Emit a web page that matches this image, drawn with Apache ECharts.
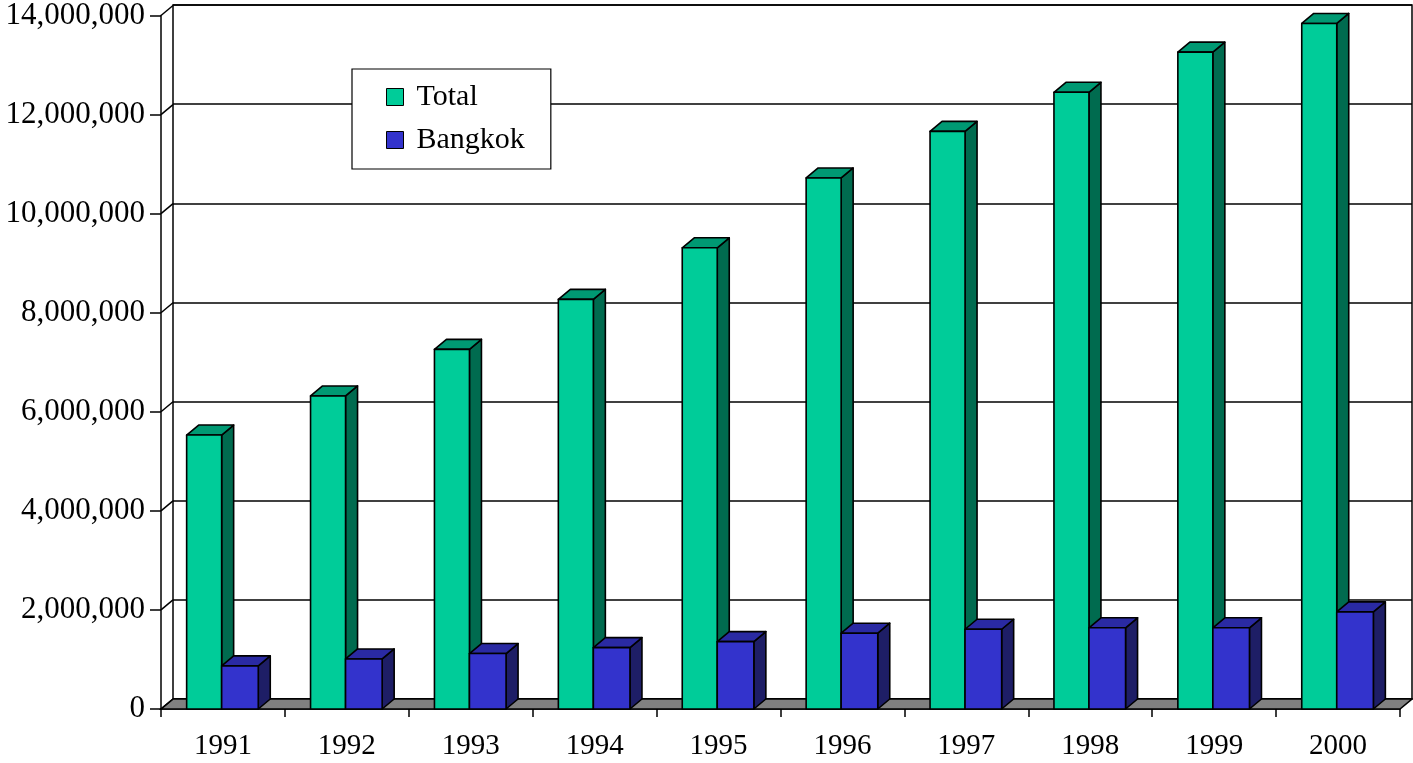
<!DOCTYPE html>
<html>
<head>
<meta charset="utf-8">
<script src="https://cdn.jsdelivr.net/npm/echarts@6/dist/echarts.min.js"></script>
<style>
html,body{margin:0;padding:0;background:#fff;}
#chart{width:1413px;height:763px;}
</style>
</head>
<body>
<div id="chart"></div>
<script>
// ---- data ----
const categories = ['1991','1992','1993','1994','1995','1996','1997','1998','1999','2000'];
const totalValues = [5530000, 6320000, 7260000, 8270000, 9310000, 10720000, 11660000, 12450000, 13260000, 13840000];
const bangkokValues = [870000, 1010000, 1120000, 1240000, 1360000, 1530000, 1610000, 1640000, 1640000, 1960000];
const yTicks = [0, 2000000, 4000000, 6000000, 8000000, 10000000, 12000000, 14000000];
const seriesNames = ['Total', 'Bangkok'];

// ---- layout / style constants ----
const FRONT = {left: 161, top: 15, right: 13, bottom: 54};
const DX = 12, DY = 10;
const FONT = '"Liberation Serif", "Times New Roman", serif';
const COLORS = {
  Total:   {front: '#00CC99', top: '#009973', side: '#006B4F'},
  Bangkok: {front: '#3333CC', top: '#2A2AA3', side: '#1E1E66'}
};
const EDGE = '#000';

function fmt(v){ return String(v).replace(/\B(?=(\d{3})+(?!\d))/g, ','); }

function barRenderer(name, f0, f1){
  const c = COLORS[name];
  return function(params, api){
    const i = api.value(0), v = api.value(1);
    const p = api.coord([i, v]);
    const b = api.coord([i, 0]);
    const bw = api.size([1, 0])[0];
    const x0 = p[0] + f0 * bw, x1 = p[0] + f1 * bw;
    const yT = p[1], yB = b[1];
    const st = {lineWidth: 1.6, stroke: EDGE, lineJoin: 'round'};
    return {
      type: 'group',
      children: [
        {type: 'polygon', shape: {points: [[x1, yT], [x1 + DX, yT - DY], [x1 + DX, yB - DY], [x1, yB]]},
         style: Object.assign({fill: c.side}, st)},
        {type: 'polygon', shape: {points: [[x0, yT], [x1, yT], [x1 + DX, yT - DY], [x0 + DX, yT - DY]]},
         style: Object.assign({fill: c.top}, st)},
        {type: 'rect', shape: {x: x0, y: yT, width: x1 - x0, height: yB - yT},
         style: Object.assign({fill: c.front}, st)}
      ]
    };
  };
}

function floorRenderer(params, api){
  const cs = params.coordSys;
  const yB = api.coord([0, 0])[1];
  const xL = cs.x, xR = cs.x + cs.width;
  return {
    type: 'polygon',
    shape: {points: [[xL, yB], [xR, yB], [xR + DX, yB - DY], [xL + DX, yB - DY]]},
    style: {fill: '#808080', stroke: EDGE, lineWidth: 1.6}
  };
}

function sideRenderer(params, api){
  const cs = params.coordSys;
  const y = api.coord([0, api.value(1)])[1];
  return {
    type: 'line',
    shape: {x1: cs.x, y1: y, x2: cs.x + DX, y2: y - DY},
    style: {stroke: EDGE, lineWidth: 1.5}
  };
}

const chart = echarts.init(document.getElementById('chart'));
chart.setOption({
  animation: false,
  backgroundColor: '#fff',
  grid: [
    {left: FRONT.left, top: FRONT.top, right: FRONT.right, bottom: FRONT.bottom},
    {left: FRONT.left + DX, top: FRONT.top - DY, right: FRONT.right - DX, bottom: FRONT.bottom + DY,
     show: true, borderColor: EDGE, borderWidth: 1.5, backgroundColor: '#fff'}
  ],
  legend: {
    orient: 'vertical',
    left: 352, top: 69,
    data: seriesNames,
    backgroundColor: '#fff',
    borderColor: EDGE, borderWidth: 1.2,
    padding: [13, 26, 14, 34],
    itemGap: 13,
    itemWidth: 17, itemHeight: 17,
    icon: 'rect',
    itemStyle: {borderColor: EDGE, borderWidth: 1},
    textStyle: {fontFamily: FONT, fontSize: 30, color: '#000', lineHeight: 30, padding: [0, 0, 0, 8]}
  },
  xAxis: [
    {type: 'category', gridIndex: 0, data: categories, boundaryGap: true,
     axisLine: {show: true, lineStyle: {color: EDGE, width: 1.5}},
     axisTick: {show: true, length: 8, inside: false, lineStyle: {color: EDGE, width: 1.5}},
     axisLabel: {fontFamily: FONT, fontSize: 29, color: '#000', margin: 23},
     splitLine: {show: false}},
    {type: 'category', gridIndex: 1, data: categories, show: false}
  ],
  yAxis: [
    {type: 'value', gridIndex: 0, min: 0, max: 14000000, interval: 2000000,
     axisLine: {show: true, lineStyle: {color: EDGE, width: 1.5}},
     axisTick: {show: true, length: 11, lineStyle: {color: EDGE, width: 1.5}},
     axisLabel: {fontFamily: FONT, fontSize: 31, color: '#000', margin: 16, formatter: fmt},
     splitLine: {show: false}},
    {type: 'value', gridIndex: 1, min: 0, max: 14000000, interval: 2000000,
     axisLine: {show: false}, axisTick: {show: false}, axisLabel: {show: false},
     splitLine: {show: true, lineStyle: {color: EDGE, width: 1.5}}}
  ],
  series: [
    {type: 'custom', name: '__floor', xAxisIndex: 0, yAxisIndex: 0, z: 1, silent: true,
     renderItem: floorRenderer, data: [[0, 0]]},
    {type: 'custom', name: '__side', xAxisIndex: 0, yAxisIndex: 0, z: 1, silent: true,
     renderItem: sideRenderer, data: yTicks.map(v => [0, v])},
    {type: 'custom', name: 'Total', xAxisIndex: 0, yAxisIndex: 0, z: 3,
     itemStyle: {color: COLORS.Total.front},
     renderItem: barRenderer('Total', -0.293, -0.0105),
     data: categories.map((c, i) => [i, totalValues[i]])},
    {type: 'custom', name: 'Bangkok', xAxisIndex: 0, yAxisIndex: 0, z: 4,
     itemStyle: {color: COLORS.Bangkok.front},
     renderItem: barRenderer('Bangkok', -0.0105, 0.285),
     data: categories.map((c, i) => [i, bangkokValues[i]])}
  ]
});
</script>
</body>
</html>
